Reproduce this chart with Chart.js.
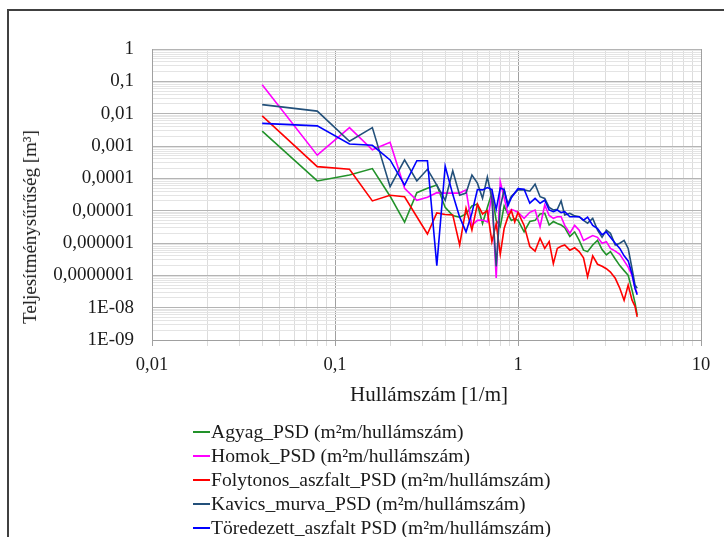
<!DOCTYPE html>
<html>
<head>
<meta charset="utf-8">
<script src="https://cdn.jsdelivr.net/npm/chart.js@4/dist/chart.umd.min.js"></script>
<style>
  body { margin: 0; background: #fff; font-family: "Liberation Serif", "Times New Roman", serif; }
  #wrap { position: relative; width: 724px; height: 537px; overflow: hidden; }
  #frame { position: absolute; left: 7px; top: 9px; width: 800px; height: 600px;
           border-top: 2px solid #404040; border-left: 2px solid #404040; }
  canvas { position: absolute; left: 0; top: 0; }
  #ytitle { position: absolute; left: 30px; top: 227px; transform: translate(-50%, -50%) rotate(-90deg);
            white-space: nowrap; font-size: 19px; color: #1a1a1a; }
  #xtitle { position: absolute; left: 429px; top: 394px; transform: translate(-50%, -50%);
            white-space: nowrap; font-size: 21px; color: #1a1a1a; }
  #legend { position: absolute; left: 193px; top: 420px; font-size: 19.6px; line-height: 24px; color: #1a1a1a; }
  .item { display: flex; align-items: center; white-space: nowrap; height: 24px; }
  .swatch { width: 17px; height: 2px; margin-right: 1px; }
</style>
</head>
<body>
<div id="wrap">
  <div id="frame"></div>
  <canvas id="psdChart" width="724" height="537"></canvas>
  <div id="ytitle">Teljesítménysűrűség [m³]</div>
  <div id="xtitle">Hullámszám [1/m]</div>
  <div id="legend"></div>
</div>
<script>
// ---------------- DATA ----------------
const wavenumbers = [0.04, 0.08, 0.12, 0.16, 0.20, 0.24, 0.28, 0.32, 0.36, 0.40, 0.44, 0.48, 0.52,
  0.56, 0.60, 0.64, 0.68, 0.72, 0.76, 0.80, 0.84, 0.88, 0.92, 0.96, 1.00, 1.08, 1.16, 1.24, 1.32,
  1.40, 1.48, 1.56, 1.64, 1.72, 1.80, 1.92, 2.04, 2.16, 2.28, 2.40, 2.56, 2.72, 2.88, 3.04, 3.20,
  3.40, 3.60, 3.80, 4.00, 4.20, 4.36, 4.48];

const agyag = [2.9e-3, 8.3e-5, 1.26e-4, 2.0e-4, 2.8e-5, 4.4e-6, 3.6e-5, 4.9e-5, 6.2e-5, 1.26e-5,
  7.1e-6, 6.3e-6, 7.9e-6, 1.4e-5, 1.6e-5, 4.0e-6, 1.26e-5, 3.5e-5, 5.0e-6, 3.2e-6, 1.4e-5, 7.9e-6,
  5.0e-6, 5.6e-6, 5.0e-6, 2.2e-6, 4.6e-6, 5.0e-6, 7.9e-6, 8.3e-6, 3.6e-6, 4.6e-6, 4.0e-6, 3.6e-6,
  3.0e-6, 1.6e-6, 2.2e-6, 1.2e-6, 6.0e-7, 5.4e-7, 8.7e-7, 1.2e-6, 6.3e-7, 4.3e-7, 5.4e-7, 3.2e-7,
  2.0e-7, 1.4e-7, 1.0e-7, 3.5e-8, 1.4e-8, 5.9e-9];

const homok = [7.8e-2, 5.2e-4, 3.7e-3, 7.6e-4, 1.3e-3, 4.9e-5, 2.1e-5, 2.6e-5, 3.6e-5, 3.5e-5,
  3.5e-5, 3.5e-5, 4.4e-5, 3.5e-6, 5.0e-6, 5.1e-6, 4.5e-6, 3.2e-5, 8.3e-8, 7.9e-5, 2.5e-5, 8.3e-6,
  1.1e-5, 1.0e-5, 8.9e-6, 5.8e-6, 8.9e-6, 1.05e-5, 3.2e-6, 1.5e-5, 7.1e-6, 5.8e-6, 6.5e-6, 6.5e-6,
  3.5e-6, 2.0e-6, 3.5e-6, 2.5e-6, 1.2e-6, 1.4e-6, 1.7e-6, 1.5e-6, 9.8e-7, 1.1e-6, 6.8e-7, 5.6e-7,
  4.5e-7, 2.8e-7, 1.8e-7, 1.0e-7, 4.0e-8, 2.8e-8];

const folytonos = [8.5e-3, 2.3e-4, 1.9e-4, 2.0e-5, 3.0e-5, 2.7e-5, 6.5e-6, 1.9e-6, 8.5e-6, 7.6e-6,
  7.4e-6, 8.7e-7, 1.2e-5, 2.5e-6, 1.6e-5, 7.9e-6, 1.0e-5, 1.1e-6, 4.0e-6, 4.5e-7, 2.8e-6, 6.3e-6,
  1.0e-5, 4.5e-6, 8.9e-6, 3.5e-6, 7.8e-7, 5.6e-7, 1.4e-6, 6.8e-7, 1.1e-6, 2.3e-7, 6.8e-7, 7.9e-7,
  8.7e-7, 6.0e-7, 7.1e-7, 5.4e-7, 3.5e-7, 9.1e-8, 4.0e-7, 2.2e-7, 1.9e-7, 1.6e-7, 1.26e-7, 8.1e-8,
  4.0e-8, 1.7e-8, 5.0e-8, 1.7e-8, 1.1e-8, 5.2e-9];

const kavics = [1.9e-2, 1.2e-2, 1.4e-3, 3.7e-3, 5.5e-5, 3.7e-4, 8.3e-5, 1.9e-4, 6.2e-5, 2.1e-5,
  1.7e-4, 3.0e-5, 3.5e-5, 1.26e-4, 7.1e-5, 2.4e-5, 1.1e-4, 2.4e-5, 1.9e-7, 1.3e-5, 4.4e-5, 1.6e-5,
  2.8e-5, 3.5e-5, 4.4e-5, 4.4e-5, 4.0e-5, 6.6e-5, 2.7e-5, 2.4e-5, 1.26e-5, 1.05e-5, 1.1e-5, 2.0e-5,
  7.4e-6, 8.3e-6, 6.9e-6, 6.5e-6, 5.0e-6, 4.1e-6, 5.8e-6, 2.5e-6, 1.5e-6, 2.5e-6, 2.0e-6, 8.7e-7,
  9.8e-7, 1.2e-6, 6.8e-7, 1.6e-7, 5.0e-8, 4.0e-8];

const toredezett = [5.0e-3, 4.2e-3, 1.15e-3, 1.05e-3, 3.7e-4, 6.2e-5, 3.5e-4, 3.5e-4, 2.0e-7, 2.4e-4,
  3.2e-5, 6.3e-6, 2.2e-6, 8.5e-6, 4.5e-5, 4.4e-5, 5.2e-5, 4.5e-5, 1.1e-5, 5.0e-5, 4.5e-5, 1.4e-5,
  2.5e-5, 3.5e-5, 4.8e-5, 4.6e-5, 1.7e-5, 2.4e-5, 1.7e-5, 2.1e-5, 1.05e-5, 9.3e-6, 1.05e-5, 8.7e-6,
  9.3e-6, 6.5e-6, 6.5e-6, 6.5e-6, 5.1e-6, 6.3e-6, 3.5e-6, 2.8e-6, 1.8e-6, 2.2e-6, 1.5e-6, 9.8e-7,
  6.8e-7, 4.0e-7, 2.8e-7, 1.1e-7, 4.0e-8, 2.5e-8];

const seriesNames = [
  "Agyag_PSD (m²m/hullámszám)",
  "Homok_PSD (m²m/hullámszám)",
  "Folytonos_aszfalt_PSD (m²m/hullámszám)",
  "Kavics_murva_PSD (m²m/hullámszám)",
  "Töredezett_aszfalt PSD (m²m/hullámszám)"
];
const seriesValues = [agyag, homok, folytonos, kavics, toredezett];
const seriesColors = ["#22922a", "#ff00ff", "#ff0000", "#23507a", "#0000ff"];

const xTickLabels = ["0,01", "0,1", "1", "10"];          // 10^-2 .. 10^1
const yTickLabels = ["1E-09", "1E-08", "0,0000001", "0,000001", "0,00001",
  "0,0001", "0,001", "0,01", "0,1", "1"];                 // 10^-9 .. 10^0

// ---------------- HELPERS ----------------
// gridlines at 1..9 x 10^e, like the spreadsheet's log axis
function decadeTicks(minExp, maxExp) {
  const t = [];
  for (let e = minExp; e < maxExp; e++) {
    for (let m = 1; m <= 9; m++) {
      t.push({ value: Number((m * Math.pow(10, e)).toPrecision(3)), major: m === 1 });
    }
  }
  t.push({ value: Math.pow(10, maxExp), major: true });
  return t;
}

function decadeLabel(v, labels, minExp) {
  const e = Math.log10(v);
  if (Math.abs(e - Math.round(e)) > 1e-6) return "";
  return labels[Math.round(e) - minExp] || "";
}

// ---------------- CHART ----------------
const datasets = seriesValues.map((vals, i) => ({
  label: seriesNames[i],
  data: wavenumbers.map((x, j) => ({ x: x, y: vals[j] })),
  borderColor: seriesColors[i],
  backgroundColor: seriesColors[i],
  borderWidth: 1.6,
  pointRadius: 0,
  tension: 0,
  fill: false,
  order: 5 - i
}));

const ctx = document.getElementById("psdChart").getContext("2d");

new Chart(ctx, {
  type: "line",
  data: { datasets: datasets },
  options: {
    responsive: false,
    animation: false,
    devicePixelRatio: 1,
    layout: { padding: { left: 0, right: 23, top: 49, bottom: 157 } },
    plugins: { legend: { display: false }, tooltip: { enabled: false } },
    scales: {
      x: {
        type: "logarithmic",
        min: 0.01,
        max: 10,
        afterBuildTicks: s => { s.ticks = decadeTicks(-2, 1); },
        afterFit: s => { s.height = 40; },
        grid: {
          color: c => (c.tick && c.tick.major ? "#a0a0a0" : "#dcdcdc"),
          tickLength: 6,
          drawTicks: true
        },
        border: { color: "#a0a0a0" },
        ticks: {
          autoSkip: false,
          maxRotation: 0,
          padding: 8,
          color: "#1a1a1a",
          font: { family: "Liberation Serif", size: 18.5 },
          callback: v => decadeLabel(v, xTickLabels, -2)
        }
      },
      y: {
        type: "logarithmic",
        min: 1e-9,
        max: 1,
        afterBuildTicks: s => { s.ticks = decadeTicks(-9, 0); },
        afterFit: s => { s.width = 152; },
        grid: {
          color: c => (c.tick && c.tick.major ? "#b4b4b4" : "#e4e4e4"),
          drawTicks: false
        },
        border: { color: "#a0a0a0" },
        ticks: {
          autoSkip: false,
          padding: 18,
          color: "#1a1a1a",
          font: { family: "Liberation Serif", size: 19 },
          callback: v => decadeLabel(v, yTickLabels, -9)
        }
      }
    }
  }
});

// ---------------- LEGEND ----------------
const legendBox = document.getElementById("legend");
seriesNames.forEach((name, i) => {
  const row = document.createElement("div");
  row.className = "item";
  const sw = document.createElement("span");
  sw.className = "swatch";
  sw.style.background = seriesColors[i];
  const txt = document.createElement("span");
  txt.textContent = name;
  row.appendChild(sw);
  row.appendChild(txt);
  legendBox.appendChild(row);
});
</script>
</body>
</html>
